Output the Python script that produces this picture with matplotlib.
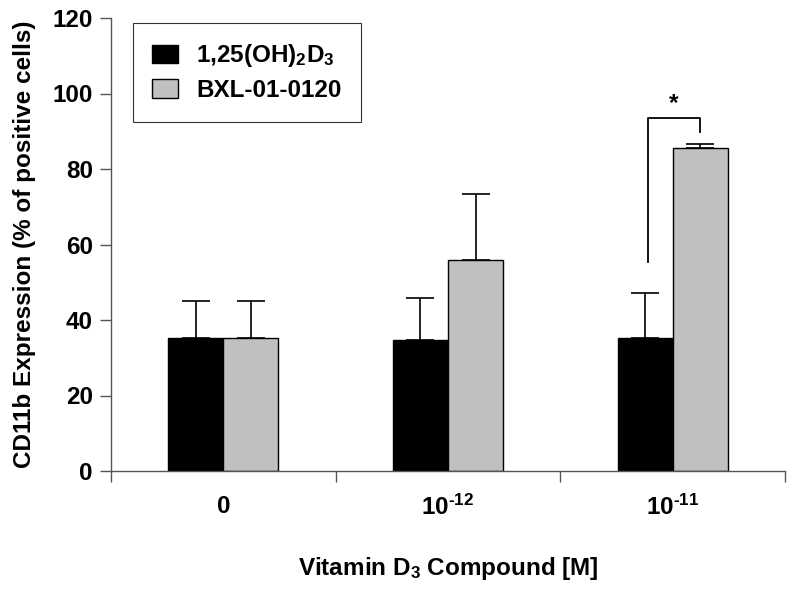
import matplotlib
matplotlib.use("Agg")
import matplotlib.pyplot as plt
import numpy as np
from matplotlib.patches import Patch

plt.rcParams['font.family'] = ['Liberation Sans', 'DejaVu Sans']
plt.rcParams['font.weight'] = 'bold'
plt.rcParams['mathtext.fontset'] = 'custom'
plt.rcParams['mathtext.rm'] = 'Liberation Sans:bold'
plt.rcParams['mathtext.it'] = 'Liberation Sans:bold'
plt.rcParams['mathtext.bf'] = 'Liberation Sans:bold'

categories = ['0', r'10$^{\text{-12}}$', r'10$^{\text{-11}}$']
calcitriol = [35.2, 34.7, 35.3]
calcitriol_err = [9.8, 11.0, 11.8]
bxl = [35.2, 55.9, 85.6]
bxl_err = [9.8, 17.4, 0.9]
series_names = [r'1,25(OH)$\mathregular{_2}$D$\mathregular{_3}$', 'BXL-01-0120']

FS = 17.5

fig = plt.figure(figsize=(7.94, 5.89), dpi=100)
ax = fig.add_axes([111/794, 1-471/589, (785-111)/794, (471-18)/589])

x = np.arange(len(categories))
w = 0.245
ekw = dict(elinewidth=1.2, capthick=1.2, ecolor='black')
ax.bar(x - w/2, calcitriol, w, color='black', edgecolor='black', linewidth=1.0,
       yerr=[np.zeros(3), calcitriol_err], capsize=10, error_kw=ekw, zorder=2)
ax.bar(x + w/2, bxl, w, color='#c0c0c0', edgecolor='black', linewidth=1.0,
       yerr=[np.zeros(3), bxl_err], capsize=10, error_kw=ekw, zorder=2)

# significance bracket
ax.plot([2 - w/2 + 0.013, 2 - w/2 + 0.013, 2 + w/2, 2 + w/2], [55.4, 93.6, 93.6, 89.7],
        color='black', lw=1.3, zorder=3)
ax.text(2 + 0.005, 97.3, '*', ha='center', va='center', fontsize=FS, fontweight='bold')

ax.set_xlim(-0.5, 2.5)
ax.set_ylim(0, 120)
ax.set_yticks(np.arange(0, 121, 20))
ax.set_xticks([-0.5, 0.5, 1.5, 2.5])
ax.set_xticklabels([])
ax.set_xticks(x, minor=True)
ax.set_xticklabels(categories, minor=True)
ax.tick_params(axis='x', which='minor', length=0, pad=17, labelsize=FS)
ax.tick_params(axis='x', which='major', length=8, width=1.0, color='#555555')
ax.tick_params(axis='y', length=8, width=1.0, color='#555555', labelsize=FS, pad=5)
for lab in ax.get_xticklabels(minor=True) + ax.get_yticklabels():
    lab.set_fontweight('bold')

for s in ['top', 'right']:
    ax.spines[s].set_visible(False)
for s in ['left', 'bottom']:
    ax.spines[s].set_color('#555555')
    ax.spines[s].set_linewidth(1.0)

ax.set_ylabel('CD11b Expression (% of positive cells)', fontsize=FS, fontweight='bold', labelpad=12)
ax.set_xlabel(r'Vitamin D$\mathregular{_3}$ Compound [M]', fontsize=FS, fontweight='bold', labelpad=25)

handles = [Patch(facecolor='black', edgecolor='black', lw=1.0),
           Patch(facecolor='#c0c0c0', edgecolor='black', lw=1.0)]
leg = ax.legend(handles, series_names, loc='upper left', bbox_to_anchor=(22/674, 1 - 5/453),
                fontsize=FS, frameon=True, fancybox=False, edgecolor='black',
                borderpad=0.8, handlelength=1.05, handleheight=0.82, handletextpad=0.75,
                labelspacing=0.4, borderaxespad=0)
leg.get_frame().set_linewidth(0.8)
for t in leg.get_texts():
    t.set_fontweight('bold')

fig.savefig('out.png', dpi=100)
